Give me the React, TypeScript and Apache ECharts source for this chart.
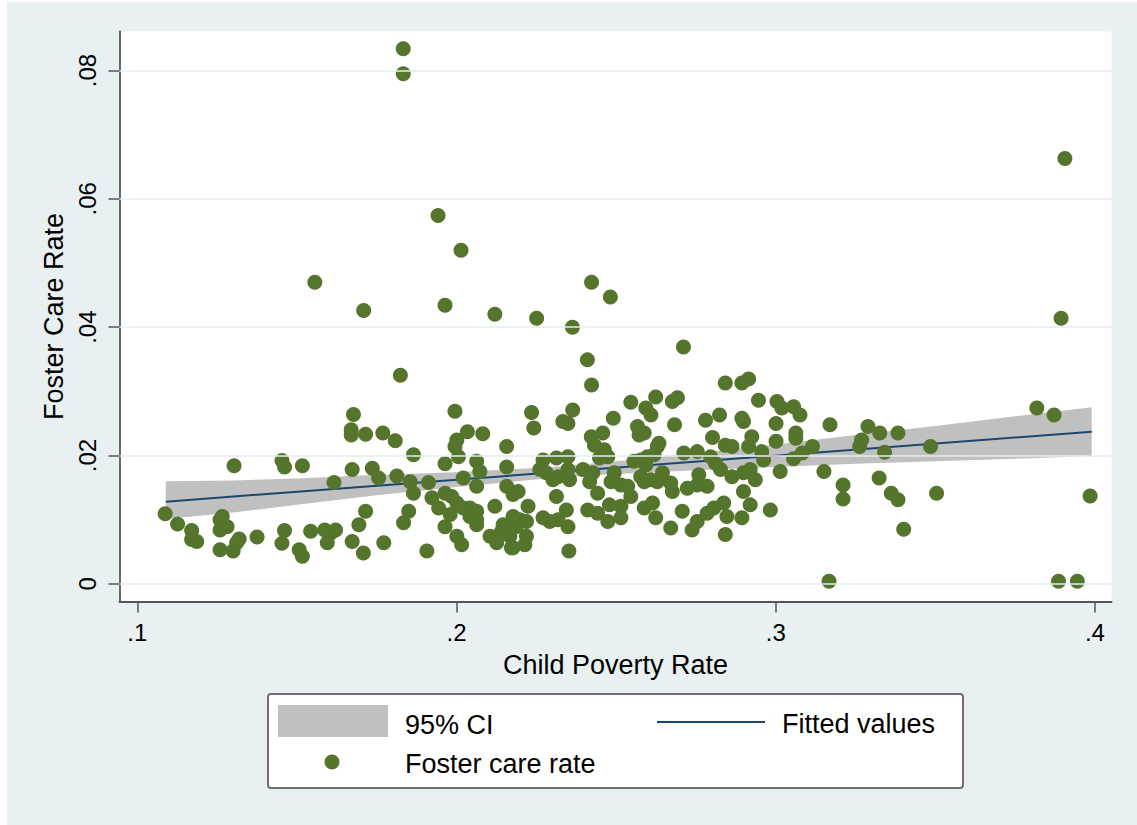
import React, { useEffect, useRef } from "react";
import * as echarts from "echarts";

// Child poverty rate (x) vs foster care rate (y), one point per county
const fosterCarePoints: [number, number][] = [
  [0.1833, 0.0834], [0.1833, 0.0795], [0.3906, 0.0663], [0.1942, 0.0574], [0.2014, 0.052],
  [0.1556, 0.047], [0.2423, 0.047], [0.2482, 0.0447], [0.1964, 0.0434], [0.1709, 0.0426],
  [0.212, 0.042], [0.2251, 0.0414], [0.3894, 0.0414], [0.2363, 0.04], [0.2711, 0.0369],
  [0.241, 0.0349], [0.1824, 0.0325], [0.2423, 0.031],
  [0.1303, 0.0184], [0.1453, 0.0192], [0.1461, 0.0182], [0.1517, 0.0184], [0.1616, 0.0158],
  [0.1087, 0.0109], [0.1126, 0.0093], [0.117, 0.0083], [0.117, 0.0069], [0.1186, 0.0066],
  [0.1259, 0.01], [0.1266, 0.0105], [0.1259, 0.0084], [0.1281, 0.0089], [0.1259, 0.0053],
  [0.13, 0.0051], [0.1311, 0.0064], [0.1319, 0.007], [0.1375, 0.0073], [0.1461, 0.0083],
  [0.1453, 0.0063], [0.1507, 0.0053], [0.1517, 0.0043], [0.1543, 0.0082], [0.1587, 0.0084],
  [0.1606, 0.0079], [0.1595, 0.0064], [0.1621, 0.0084],
  [0.1677, 0.0264], [0.167, 0.024], [0.167, 0.0232], [0.1715, 0.0233], [0.1769, 0.0235],
  [0.1808, 0.0223], [0.1865, 0.0201], [0.1995, 0.0269], [0.2235, 0.0267], [0.2242, 0.0243],
  [0.2001, 0.0224], [0.1995, 0.0214], [0.2006, 0.0198], [0.1964, 0.0187], [0.2034, 0.0237],
  [0.2082, 0.0234], [0.2157, 0.0214], [0.2063, 0.0191], [0.2073, 0.0175], [0.2063, 0.0152],
  [0.2021, 0.0165], [0.2157, 0.0182], [0.2271, 0.0193], [0.2281, 0.0173],
  [0.1673, 0.0178], [0.1736, 0.018], [0.1756, 0.0165], [0.1813, 0.0168], [0.1855, 0.0159],
  [0.1865, 0.0141], [0.1912, 0.0158], [0.1923, 0.0134], [0.1944, 0.0118], [0.1964, 0.0141],
  [0.1985, 0.0136], [0.2001, 0.0126], [0.2021, 0.0118], [0.2042, 0.0118], [0.2063, 0.0113],
  [0.2042, 0.0105], [0.2063, 0.01], [0.2063, 0.0092], [0.198, 0.0108], [0.1964, 0.0089],
  [0.2001, 0.0074], [0.2016, 0.0061], [0.212, 0.0121], [0.2146, 0.0092], [0.2141, 0.0082],
  [0.2105, 0.0074], [0.2126, 0.0064], [0.2167, 0.0074], [0.2172, 0.0056], [0.2157, 0.0152],
  [0.2177, 0.0139], [0.2193, 0.0144], [0.2224, 0.0121], [0.2177, 0.0105], [0.2198, 0.01],
  [0.2219, 0.0097], [0.2187, 0.0089], [0.2219, 0.0074], [0.2214, 0.0061], [0.2177, 0.0056],
  [0.2271, 0.0103], [0.1715, 0.0113], [0.1694, 0.0092], [0.1673, 0.0066], [0.1708, 0.0048],
  [0.1772, 0.0064], [0.185, 0.0113], [0.1834, 0.0095], [0.1907, 0.0051],
  [0.2546, 0.0283], [0.2624, 0.0291], [0.2676, 0.0284], [0.2692, 0.029], [0.2593, 0.0274],
  [0.2609, 0.0263], [0.2842, 0.0313], [0.2894, 0.0313], [0.2915, 0.0319], [0.2946, 0.0286],
  [0.2364, 0.0271], [0.2333, 0.0253], [0.2349, 0.025], [0.2491, 0.0258], [0.2567, 0.0245],
  [0.2572, 0.0232], [0.2588, 0.0235], [0.2683, 0.0248], [0.278, 0.0255], [0.2824, 0.0263],
  [0.2894, 0.0258], [0.2899, 0.0253], [0.2802, 0.0228], [0.2842, 0.0216], [0.2863, 0.0214],
  [0.2925, 0.0229], [0.2915, 0.0214], [0.2422, 0.0229], [0.2458, 0.0235], [0.2432, 0.0216],
  [0.2463, 0.0209], [0.2448, 0.0196], [0.2474, 0.0198], [0.2313, 0.0196], [0.2349, 0.0198],
  [0.2261, 0.0178], [0.2302, 0.0162], [0.2318, 0.0167], [0.2354, 0.0162], [0.2349, 0.0178],
  [0.2313, 0.0136], [0.2396, 0.0178], [0.2427, 0.0173], [0.2417, 0.0159], [0.2442, 0.0141],
  [0.2494, 0.0173], [0.2484, 0.0159], [0.2515, 0.0154], [0.2536, 0.0152], [0.2546, 0.0136],
  [0.2556, 0.0191], [0.2577, 0.0193], [0.2598, 0.0198], [0.2593, 0.0185], [0.2619, 0.0201],
  [0.2629, 0.0214], [0.2634, 0.0219], [0.2577, 0.0167], [0.2588, 0.0159], [0.2609, 0.0162],
  [0.2629, 0.0159], [0.2645, 0.0173], [0.2671, 0.0157], [0.2676, 0.0144], [0.2712, 0.0204],
  [0.2754, 0.0206], [0.2796, 0.0198], [0.2811, 0.0188], [0.2827, 0.0178], [0.2759, 0.017],
  [0.2754, 0.0154], [0.2785, 0.0152], [0.2723, 0.0149], [0.2863, 0.0167], [0.2899, 0.0173],
  [0.2936, 0.0162], [0.2899, 0.0144], [0.292, 0.0123],
  [0.2292, 0.0097], [0.2318, 0.01], [0.2344, 0.0115], [0.2349, 0.0089], [0.2352, 0.0051],
  [0.2411, 0.0115], [0.2442, 0.011], [0.2474, 0.0097], [0.2479, 0.0123], [0.2515, 0.0121],
  [0.2515, 0.0103], [0.2588, 0.0118], [0.2614, 0.0126], [0.2624, 0.0103], [0.2671, 0.0087],
  [0.2707, 0.0113], [0.2738, 0.0084], [0.2754, 0.0097], [0.2785, 0.011], [0.2806, 0.0118],
  [0.2837, 0.0126], [0.2847, 0.0105], [0.2842, 0.0077], [0.2894, 0.0103],
  [0.3004, 0.0284], [0.3019, 0.0274], [0.3056, 0.0276], [0.3076, 0.0263], [0.3001, 0.025],
  [0.317, 0.0248], [0.3001, 0.0222], [0.3063, 0.0235], [0.3063, 0.0227], [0.2956, 0.0206],
  [0.2962, 0.0193], [0.3115, 0.0214], [0.3083, 0.0204], [0.3056, 0.0195], [0.3289, 0.0245],
  [0.3326, 0.0235], [0.3383, 0.0235], [0.3269, 0.0224], [0.3263, 0.0214], [0.3341, 0.0205],
  [0.3485, 0.0214], [0.3818, 0.0274], [0.3872, 0.0263], [0.292, 0.0178], [0.3014, 0.0175],
  [0.3151, 0.0175], [0.2983, 0.0115], [0.3211, 0.0154], [0.3211, 0.0132], [0.3324, 0.0165],
  [0.3362, 0.0141], [0.3383, 0.0131], [0.3401, 0.0085], [0.3504, 0.0141], [0.3985, 0.0137],
  [0.3167, 0.0004], [0.3886, 0.0004], [0.3945, 0.0004],
];

// 95% confidence band of the linear fit
const ciX = [0.1089, 0.13, 0.15, 0.175, 0.2, 0.23, 0.25, 0.275, 0.3, 0.325, 0.35, 0.375, 0.399];
const ciLower = [0.0101, 0.0111, 0.0123, 0.0138, 0.0151, 0.0165, 0.0171, 0.0177, 0.0182, 0.0187, 0.0191, 0.0195, 0.0199];
const ciUpper = [0.016, 0.0161, 0.0164, 0.017, 0.0174, 0.0182, 0.0191, 0.0204, 0.0217, 0.0232, 0.0246, 0.0261, 0.0275];

// Fitted values (linear)
const fitX = [0.1089, 0.399];
const fitY = [0.0128, 0.0237];

// Axis ticks
const xTicks = [0.1, 0.2, 0.3, 0.4];
const xTickLabels = [".1", ".2", ".3", ".4"];
const yTicks = [0, 0.02, 0.04, 0.06, 0.08];
const yTickLabels = ["0", ".02", ".04", ".06", ".08"];

const FONT = "'Liberation Sans', Arial, Helvetica, sans-serif";
const GREEN = "#55752d";
const NAVY = "#1a476f";
const CI_GRAY = "#c0c0c0";
const BG = "#e8f0f2";
const AXIS = "#555555";

const labelFor = (ticks: number[], labels: string[]) => (v: number) => {
  const i = ticks.findIndex((t) => Math.abs(t - v) < 1e-9);
  return i >= 0 ? labels[i] : "";
};

export default function App() {
  const ref = useRef<HTMLDivElement>(null);

  useEffect(() => {
    if (!ref.current) return;
    const chart = echarts.init(ref.current, undefined, { renderer: "svg" });

    const option: any = {
      animation: false,
      backgroundColor: BG,
      textStyle: { fontFamily: FONT },
      grid: {
        left: 119.5,
        top: 31.5,
        width: 992,
        height: 570,
        show: true,
        backgroundColor: "#ffffff",
        borderWidth: 0,
        containLabel: false,
        outerBoundsMode: "none",
      },
      xAxis: {
        type: "value",
        min: 0.0944,
        max: 0.4052,
        name: "Child Poverty Rate",
        nameLocation: "middle",
        nameGap: 50,
        nameTextStyle: { fontSize: 27, color: "#000", fontFamily: FONT },
        axisLine: { show: true, onZero: false, lineStyle: { color: AXIS, width: 1.8 } },
        axisTick: { show: true, length: 11, customValues: xTicks, lineStyle: { color: AXIS, width: 1.5 } },
        axisLabel: {
          show: true,
          customValues: xTicks,
          margin: 19,
          fontSize: 24,
          color: "#000",
          fontFamily: FONT,
          formatter: labelFor(xTicks, xTickLabels),
        },
        splitLine: { show: false },
      },
      yAxis: {
        type: "value",
        min: -0.00276,
        max: 0.08608,
        name: "Foster Care Rate",
        nameLocation: "middle",
        nameRotate: 90,
        nameGap: 52,
        nameTextStyle: { fontSize: 27, color: "#000", fontFamily: FONT },
        axisLine: { show: true, onZero: false, lineStyle: { color: AXIS, width: 1.8 } },
        axisTick: { show: true, length: 11, customValues: yTicks, lineStyle: { color: AXIS, width: 1.5 } },
        axisLabel: {
          show: true,
          customValues: yTicks,
          rotate: 90,
          margin: 20,
          fontSize: 24,
          color: "#000",
          fontFamily: FONT,
          formatter: labelFor(yTicks, yTickLabels),
        },
        splitLine: { show: false },
      },
      series: [
        {
          type: "line",
          data: [],
          z: 1,
          silent: true,
          markLine: {
            silent: true,
            symbol: ["none", "none"],
            label: { show: false },
            lineStyle: { color: "#e3edf0", width: 1.5, type: "solid" },
            data: yTicks.map((v) => ({ yAxis: v })),
          },
        },
        {
          type: "custom",
          name: "95% CI",
          z: 2,
          silent: true,
          clip: true,
          data: [[ciX[0], ciLower[0]]],
          renderItem: (_params: any, api: any) => {
            const pts: number[][] = [];
            for (let i = 0; i < ciX.length; i++) pts.push(api.coord([ciX[i], ciUpper[i]]));
            for (let i = ciX.length - 1; i >= 0; i--) pts.push(api.coord([ciX[i], ciLower[i]]));
            return { type: "polygon", shape: { points: pts }, style: { fill: CI_GRAY } };
          },
        },
        {
          type: "line",
          name: "Fitted values",
          z: 3,
          silent: true,
          showSymbol: false,
          data: fitX.map((x, i) => [x, fitY[i]]),
          lineStyle: { color: NAVY, width: 2 },
        },
        {
          type: "scatter",
          name: "Foster care rate",
          z: 4,
          silent: true,
          symbol: "circle",
          symbolSize: 15,
          itemStyle: { color: GREEN, opacity: 1 },
          data: fosterCarePoints,
        },
      ],
      graphic: [
        { type: "rect", shape: { x: 0, y: 0, width: 7, height: 825 }, style: { fill: "#ffffff" } },
        { type: "rect", shape: { x: 0, y: 0, width: 1137, height: 2 }, style: { fill: "#ffffff" } },
        {
          type: "rect",
          shape: { x: 268, y: 694, width: 695, height: 94, r: 3 },
          style: { fill: "#ffffff", stroke: "#707070", lineWidth: 2 },
        },
        { type: "rect", shape: { x: 278, y: 705, width: 110, height: 32 }, style: { fill: CI_GRAY } },
        {
          type: "text",
          x: 405,
          y: 725,
          style: { text: "95% CI", fontSize: 27, fontFamily: FONT, fill: "#000", verticalAlign: "middle" },
        },
        {
          type: "line",
          shape: { x1: 657, y1: 722, x2: 765, y2: 722 },
          style: { stroke: NAVY, lineWidth: 2 },
        },
        {
          type: "text",
          x: 782,
          y: 724,
          style: { text: "Fitted values", fontSize: 27, fontFamily: FONT, fill: "#000", verticalAlign: "middle" },
        },
        { type: "circle", shape: { cx: 332, cy: 762, r: 7.5 }, style: { fill: GREEN } },
        {
          type: "text",
          x: 405,
          y: 764,
          style: { text: "Foster care rate", fontSize: 27, fontFamily: FONT, fill: "#000", verticalAlign: "middle" },
        },
      ],
    };

    chart.setOption(option);
    return () => chart.dispose();
  }, []);

  return (
    <div
      ref={ref}
      style={{ position: "absolute", left: 0, top: 0, width: 1137, height: 825 }}
    />
  );
}
